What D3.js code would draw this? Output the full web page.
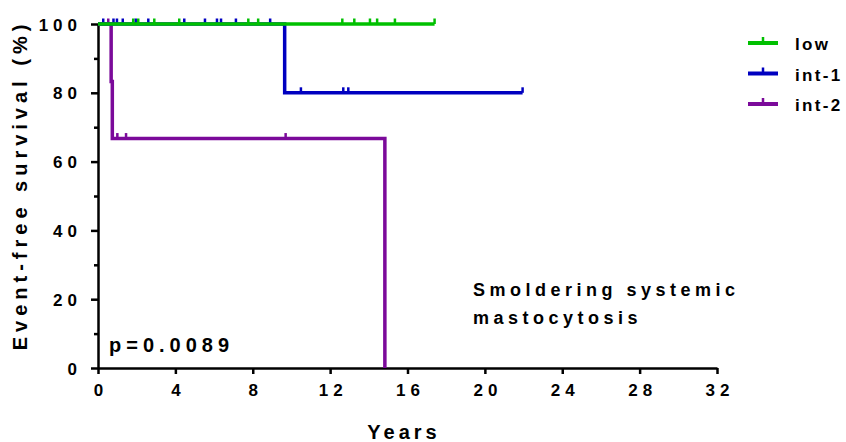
<!DOCTYPE html>
<html>
<head>
<meta charset="utf-8">
<script src="https://cdn.jsdelivr.net/npm/d3@7"></script>
<style>
  body { margin: 0; background: #fff; }
  svg { display: block; }
  text { font-family: "Liberation Sans", Arial, sans-serif; font-weight: bold; fill: #000; }
</style>
</head>
<body>
<script>
const WIDTH = 846, HEIGHT = 442;

// Kaplan-Meier steps: [time, survival from that time on]
const groups = ["low", "int-1", "int-2"];
const colors = ["#00c000", "#0000c0", "#7b0a9a"];
const lowSteps = [[0, 100], [17.4, 100]];
const int1Steps = [[0, 100], [9.65, 80], [21.95, 80]];
const int2Steps = [[0, 100], [0.68, 83.3], [0.74, 66.7], [14.83, 0]];

// censored observations: [time, survival]
const lowCensor = [[1.82, 100], [2.08, 100], [2.91, 100], [4.2, 100], [7.77, 100], [8.28, 100],
    [12.63, 100], [13.25, 100], [14.06, 100], [14.43, 100], [15.35, 100], [17.4, 100]];
const int1Censor = [[0.27, 100], [0.8, 100], [0.98, 100], [1.28, 100], [1.95, 100], [2.6, 100],
    [4.46, 100], [5.53, 100], [6.15, 100], [6.36, 100], [7.13, 100], [8.9, 100],
    [10.49, 80], [12.68, 80], [12.94, 80], [21.95, 80]];
const int2Censor = [[0.53, 100], [1.0, 66.7], [1.45, 66.7], [9.7, 66.7]];

const xTicks = [0, 4, 8, 12, 16, 20, 24, 28, 32];
const yTicks = [0, 20, 40, 60, 80, 100];
const yMinor = [10, 30, 50, 70, 90];

const svg = d3.select("body").append("svg")
    .attr("width", WIDTH).attr("height", HEIGHT);

const x = d3.scaleLinear().domain([0, 32]).range([98, 717]);
const y = d3.scaleLinear().domain([0, 100]).range([368, 24]);

// y axis with minor ticks
svg.append("g")
    .attr("transform", "translate(98,0)")
    .call(d3.axisLeft(y).tickValues(yMinor).tickSize(4).tickFormat(""))
    .call(g => g.select(".domain").remove());
const yAxis = svg.append("g")
    .attr("transform", "translate(98,0)")
    .call(d3.axisLeft(y).tickValues(yTicks).tickSize(7).tickSizeOuter(0).tickPadding(9));

const xAxis = svg.append("g")
    .attr("transform", "translate(0,368)")
    .call(d3.axisBottom(x).tickValues(xTicks).tickSize(6).tickSizeOuter(0).tickPadding(10));

svg.selectAll(".domain, .tick line").attr("stroke", "#000").attr("stroke-width", 2.5);
yAxis.selectAll("text").style("font-size", "17px").style("letter-spacing", "5px")
    .attr("dy", "0.36em");
xAxis.selectAll("text").style("font-size", "17px").style("letter-spacing", "5px")
    .attr("dx", "2.5px");
svg.selectAll(".tick text").attr("fill", "#000");

// axis titles
svg.append("text")
    .attr("transform", "translate(27,185) rotate(-90)")
    .attr("text-anchor", "middle")
    .style("font-size", "20px").style("letter-spacing", "5px")
    .text("Event-free survival (%)");
svg.append("text")
    .attr("x", 404).attr("y", 439)
    .attr("text-anchor", "middle")
    .style("font-size", "20px").style("letter-spacing", "4px")
    .text("Years");

// curves
const line = d3.line().x(d => x(d[0])).y(d => y(d[1])).curve(d3.curveStepAfter);
const steps = [lowSteps, int1Steps, int2Steps];
const censors = [lowCensor, int1Censor, int2Censor];

[2, 1, 0].forEach(i => {
    svg.append("path")
        .datum(steps[i])
        .attr("d", line)
        .attr("fill", "none")
        .attr("stroke", colors[i])
        .attr("stroke-width", 3.5);
    svg.selectAll(".c" + i)
        .data(censors[i])
        .enter().append("line")
        .attr("class", "c" + i)
        .attr("x1", d => x(d[0])).attr("x2", d => x(d[0]))
        .attr("y1", d => y(d[1])).attr("y2", d => y(d[1]) - 5.5)
        .attr("stroke", colors[i])
        .attr("stroke-width", 2.5);
});

// legend
const legend = svg.selectAll(".legend")
    .data(groups)
    .enter().append("g")
    .attr("transform", (d, i) => "translate(748," + (43 + i * 30.5) + ")");
legend.append("line")
    .attr("x1", 0).attr("x2", 30).attr("y1", 0).attr("y2", 0)
    .attr("stroke", (d, i) => colors[i]).attr("stroke-width", 4);
legend.append("line")
    .attr("x1", 15).attr("x2", 15).attr("y1", 0).attr("y2", -6)
    .attr("stroke", (d, i) => colors[i]).attr("stroke-width", 2.5);
legend.append("text")
    .attr("x", 47).attr("y", 7)
    .style("font-size", "17px").style("letter-spacing", "2.3px")
    .text(d => d);

// annotations
svg.append("text")
    .attr("x", 109).attr("y", 352)
    .style("font-size", "20px").style("letter-spacing", "5px")
    .text("p=0.0089");
svg.append("text")
    .attr("x", 473).attr("y", 296)
    .style("font-size", "18px").style("letter-spacing", "4.5px")
    .text("Smoldering systemic");
svg.append("text")
    .attr("x", 473).attr("y", 324)
    .style("font-size", "18px").style("letter-spacing", "4.5px")
    .text("mastocytosis");
</script>
</body>
</html>
